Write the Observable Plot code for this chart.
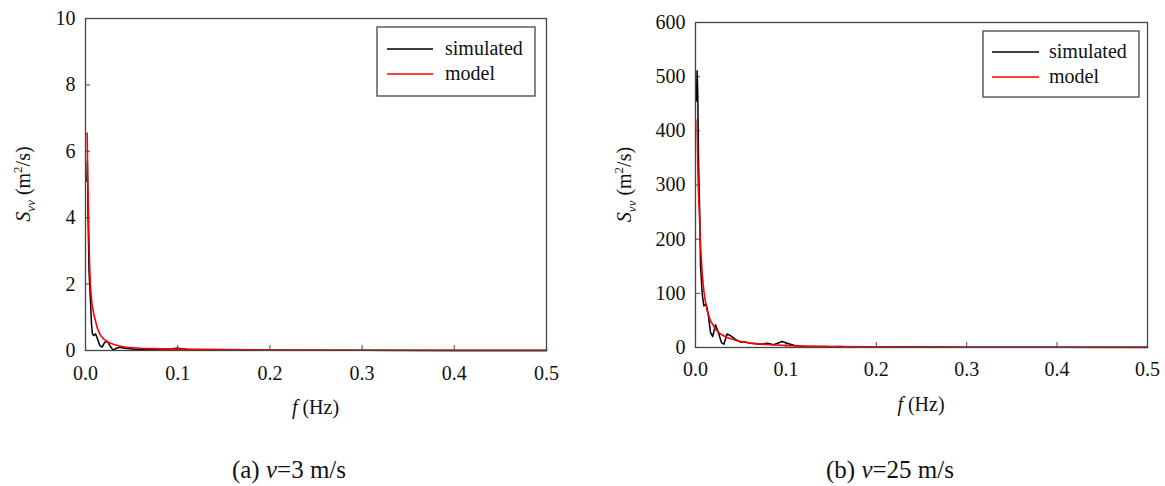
<!DOCTYPE html>
<html><head><meta charset="utf-8">
<script src="https://cdn.jsdelivr.net/npm/d3@7"></script>
<script src="https://cdn.jsdelivr.net/npm/@observablehq/plot@0.6"></script>
<style>
body{margin:0;background:#fff;font-family:'Liberation Serif';}
#wrap{position:relative;width:1165px;height:486px;overflow:hidden;font-family:'Liberation Serif';color:#111;}
.panel{position:absolute;top:0;}
.cap{position:absolute;font-size:25px;transform:translate(-50%,-50%);white-space:nowrap;font-family:'Liberation Serif';}
</style></head><body>
<div id="wrap">
 <div id="pa" class="panel" style="left:0"></div>
 <div id="pb" class="panel" style="left:580px"></div>
 <div class="cap" style="left:289px;top:470px">(a) <i>v</i>=3 m/s</div>
 <div class="cap" style="left:890px;top:470px">(b) <i>v</i>=25 m/s</div>
</div>
<script>
// ---- data ----
const xTicks = [0, 0.1, 0.2, 0.3, 0.4, 0.5];
const yTicksA = [0, 2, 4, 6, 8, 10];
const yTicksB = [0, 100, 200, 300, 400, 500, 600];
const seriesNames = ["simulated", "model"];

// (a) v = 3 m/s
const fA_sim = [0.0015, 0.002, 0.0028, 0.0038, 0.0054, 0.0065, 0.0075, 0.009, 0.011, 0.013, 0.0155, 0.018, 0.021, 0.024, 0.027, 0.030, 0.033, 0.037, 0.042, 0.048, 0.055, 0.062, 0.07, 0.08, 0.09, 0.096, 0.1, 0.105, 0.11, 0.12, 0.14, 0.16, 0.2, 0.3, 0.4, 0.5];
const sA_sim = [5.1, 5.7, 4.0, 2.4, 1.5, 0.8, 0.5, 0.45, 0.5, 0.35, 0.15, 0.1, 0.25, 0.27, 0.12, 0.01, 0.06, 0.1, 0.07, 0.05, 0.03, 0.04, 0.03, 0.03, 0.04, 0.06, 0.07, 0.05, 0.03, 0.02, 0.01, 0.015, 0.008, 0.005, 0.003, 0.002];
const fA_model = [0.0018, 0.0024, 0.0033, 0.0043, 0.0054, 0.007, 0.009, 0.0127, 0.016, 0.02, 0.025, 0.031, 0.038, 0.045, 0.06, 0.08, 0.1, 0.15, 0.2, 0.3, 0.4, 0.5];
const sA_model = [6.55, 5.2, 4.0, 2.7, 1.9, 1.4, 1.1, 0.68, 0.47, 0.34, 0.24, 0.18, 0.13, 0.1, 0.07, 0.05, 0.04, 0.025, 0.015, 0.008, 0.005, 0.003];

// (b) v = 25 m/s
const fB_sim = [0.001, 0.0018, 0.0025, 0.0035, 0.0048, 0.0055, 0.0074, 0.0092, 0.0118, 0.014, 0.0166, 0.019, 0.0221, 0.0247, 0.0287, 0.0313, 0.035, 0.0387, 0.0442, 0.0497, 0.055, 0.0608, 0.0718, 0.0792, 0.0866, 0.0958, 0.1013, 0.1087, 0.1197, 0.13, 0.14, 0.15, 0.16, 0.17, 0.2, 0.23, 0.24, 0.3, 0.4, 0.5];
const sB_sim = [455, 511, 470, 330, 240, 154, 99, 77, 80, 62, 28, 20, 42, 31, 9, 6, 25, 22, 15, 10, 10, 8, 6, 8, 5, 11, 8, 4, 1.5, 1, 2, 1.5, 2, 1, 0.8, 1.2, 1.0, 0.6, 0.5, 0.4];
const fB_model = [0.0018, 0.0024, 0.0029, 0.0037, 0.0044, 0.0055, 0.0074, 0.0092, 0.011, 0.013, 0.0166, 0.022, 0.0276, 0.035, 0.046, 0.061, 0.083, 0.109, 0.15, 0.2, 0.3, 0.4, 0.5];
const sB_model = [420, 350, 308, 270, 240, 191, 136, 105, 84, 68, 49, 34, 25, 18.5, 12.4, 8, 5, 3, 1.8, 1.1, 0.6, 0.4, 0.3];

const FONT = "'Liberation Serif'";
const zip = (f, s) => f.map((d, i) => ({f: d, s: s[i]}));

function panel(el, cfg) {
  const {width, height, mL, mR, mT, mB, yTicks, sim, model, ylabX, xlabY, xPad, leg} = cfg;
  const fw = width - mL - mR, fh = height - mT - mB;
  const chart = Plot.plot({
    width, height, marginLeft: mL, marginRight: mR, marginTop: mT, marginBottom: mB,
    style: {fontFamily: FONT, fontSize: "20px", background: "transparent", color: "#111"},
    x: {domain: [0, 0.5]},
    y: {domain: [0, yTicks[yTicks.length - 1]]},
    marks: [
      Plot.axisX({ticks: xTicks, tickSize: 0, tickPadding: xPad, tickFormat: d3.format(".1f"), label: null, fontSize: 20, fontFamily: FONT}),
      Plot.axisY({ticks: yTicks, tickSize: 0, tickPadding: 10, label: null, fontSize: 20, fontFamily: FONT}),
      Plot.tickX(xTicks, {x: d => d, insetTop: fh - 5, stroke: "#444"}),
      Plot.tickY(yTicks, {y: d => d, insetRight: fw - 5, stroke: "#444"}),
      Plot.line(sim, {x: "f", y: "s", stroke: "#000", strokeWidth: 1.5}),
      Plot.line(model, {x: "f", y: "s", stroke: "#ff0000", strokeWidth: 1.6}),
      Plot.frame({stroke: "#444", strokeWidth: 1.3})
    ]
  });
  el.appendChild(chart);
  const svg = d3.select(chart);
  // y label
  const yl = svg.append("text")
    .attr("transform", `translate(${ylabX},${mT + fh / 2}) rotate(-90)`)
    .attr("text-anchor", "middle").attr("font-family", FONT).attr("font-size", 20).attr("fill", "#111");
  yl.append("tspan").attr("font-style", "italic").text("S");
  yl.append("tspan").attr("font-style", "italic").attr("font-size", 13).attr("dy", 5).text("vv");
  yl.append("tspan").attr("dy", -5).text(" (m");
  yl.append("tspan").attr("font-size", 13).attr("dy", -8).text("2");
  yl.append("tspan").attr("dy", 8).text("/s)");
  // x label
  const xl = svg.append("text")
    .attr("x", mL + fw / 2).attr("y", xlabY)
    .attr("text-anchor", "middle").attr("font-family", FONT).attr("font-size", 20).attr("fill", "#111");
  xl.append("tspan").attr("font-style", "italic").text("f");
  xl.append("tspan").text(" (Hz)");
  // legend
  const g = svg.append("g");
  g.append("rect").attr("x", leg.x).attr("y", leg.y).attr("width", leg.w).attr("height", leg.h)
    .attr("fill", "#fff").attr("stroke", "#444").attr("stroke-width", 1.3);
  const colors = ["#000", "#ff0000"];
  seriesNames.forEach((name, i) => {
    const yy = leg.ly[i];
    g.append("line").attr("x1", leg.lx1).attr("x2", leg.lx2).attr("y1", yy).attr("y2", yy)
      .attr("stroke", colors[i]).attr("stroke-width", 1.6);
    g.append("text").attr("x", leg.tx).attr("y", yy + 6).attr("text-anchor", "start")
      .attr("font-family", FONT).attr("font-size", 20).attr("fill", "#111").text(name);
  });
}

panel(document.getElementById("pa"), {
  width: 580, height: 430, mL: 85, mR: 34, mT: 18, mB: 80,
  yTicks: yTicksA, sim: zip(fA_sim, sA_sim), model: zip(fA_model, sA_model),
  ylabX: 30, xlabY: 414, xPad: 15,
  leg: {x: 377, y: 27, w: 158, h: 69, lx1: 387, lx2: 433, ly: [49, 74], tx: 445}
});
panel(document.getElementById("pb"), {
  width: 585, height: 430, mL: 115, mR: 18, mT: 22, mB: 83,
  yTicks: yTicksB, sim: zip(fB_sim, sB_sim), model: zip(fB_model, sB_model),
  ylabX: 51, xlabY: 411, xPad: 14,
  leg: {x: 403, y: 31, w: 156, h: 66, lx1: 412, lx2: 459, ly: [52, 77], tx: 469}
});
</script>
</body></html>
